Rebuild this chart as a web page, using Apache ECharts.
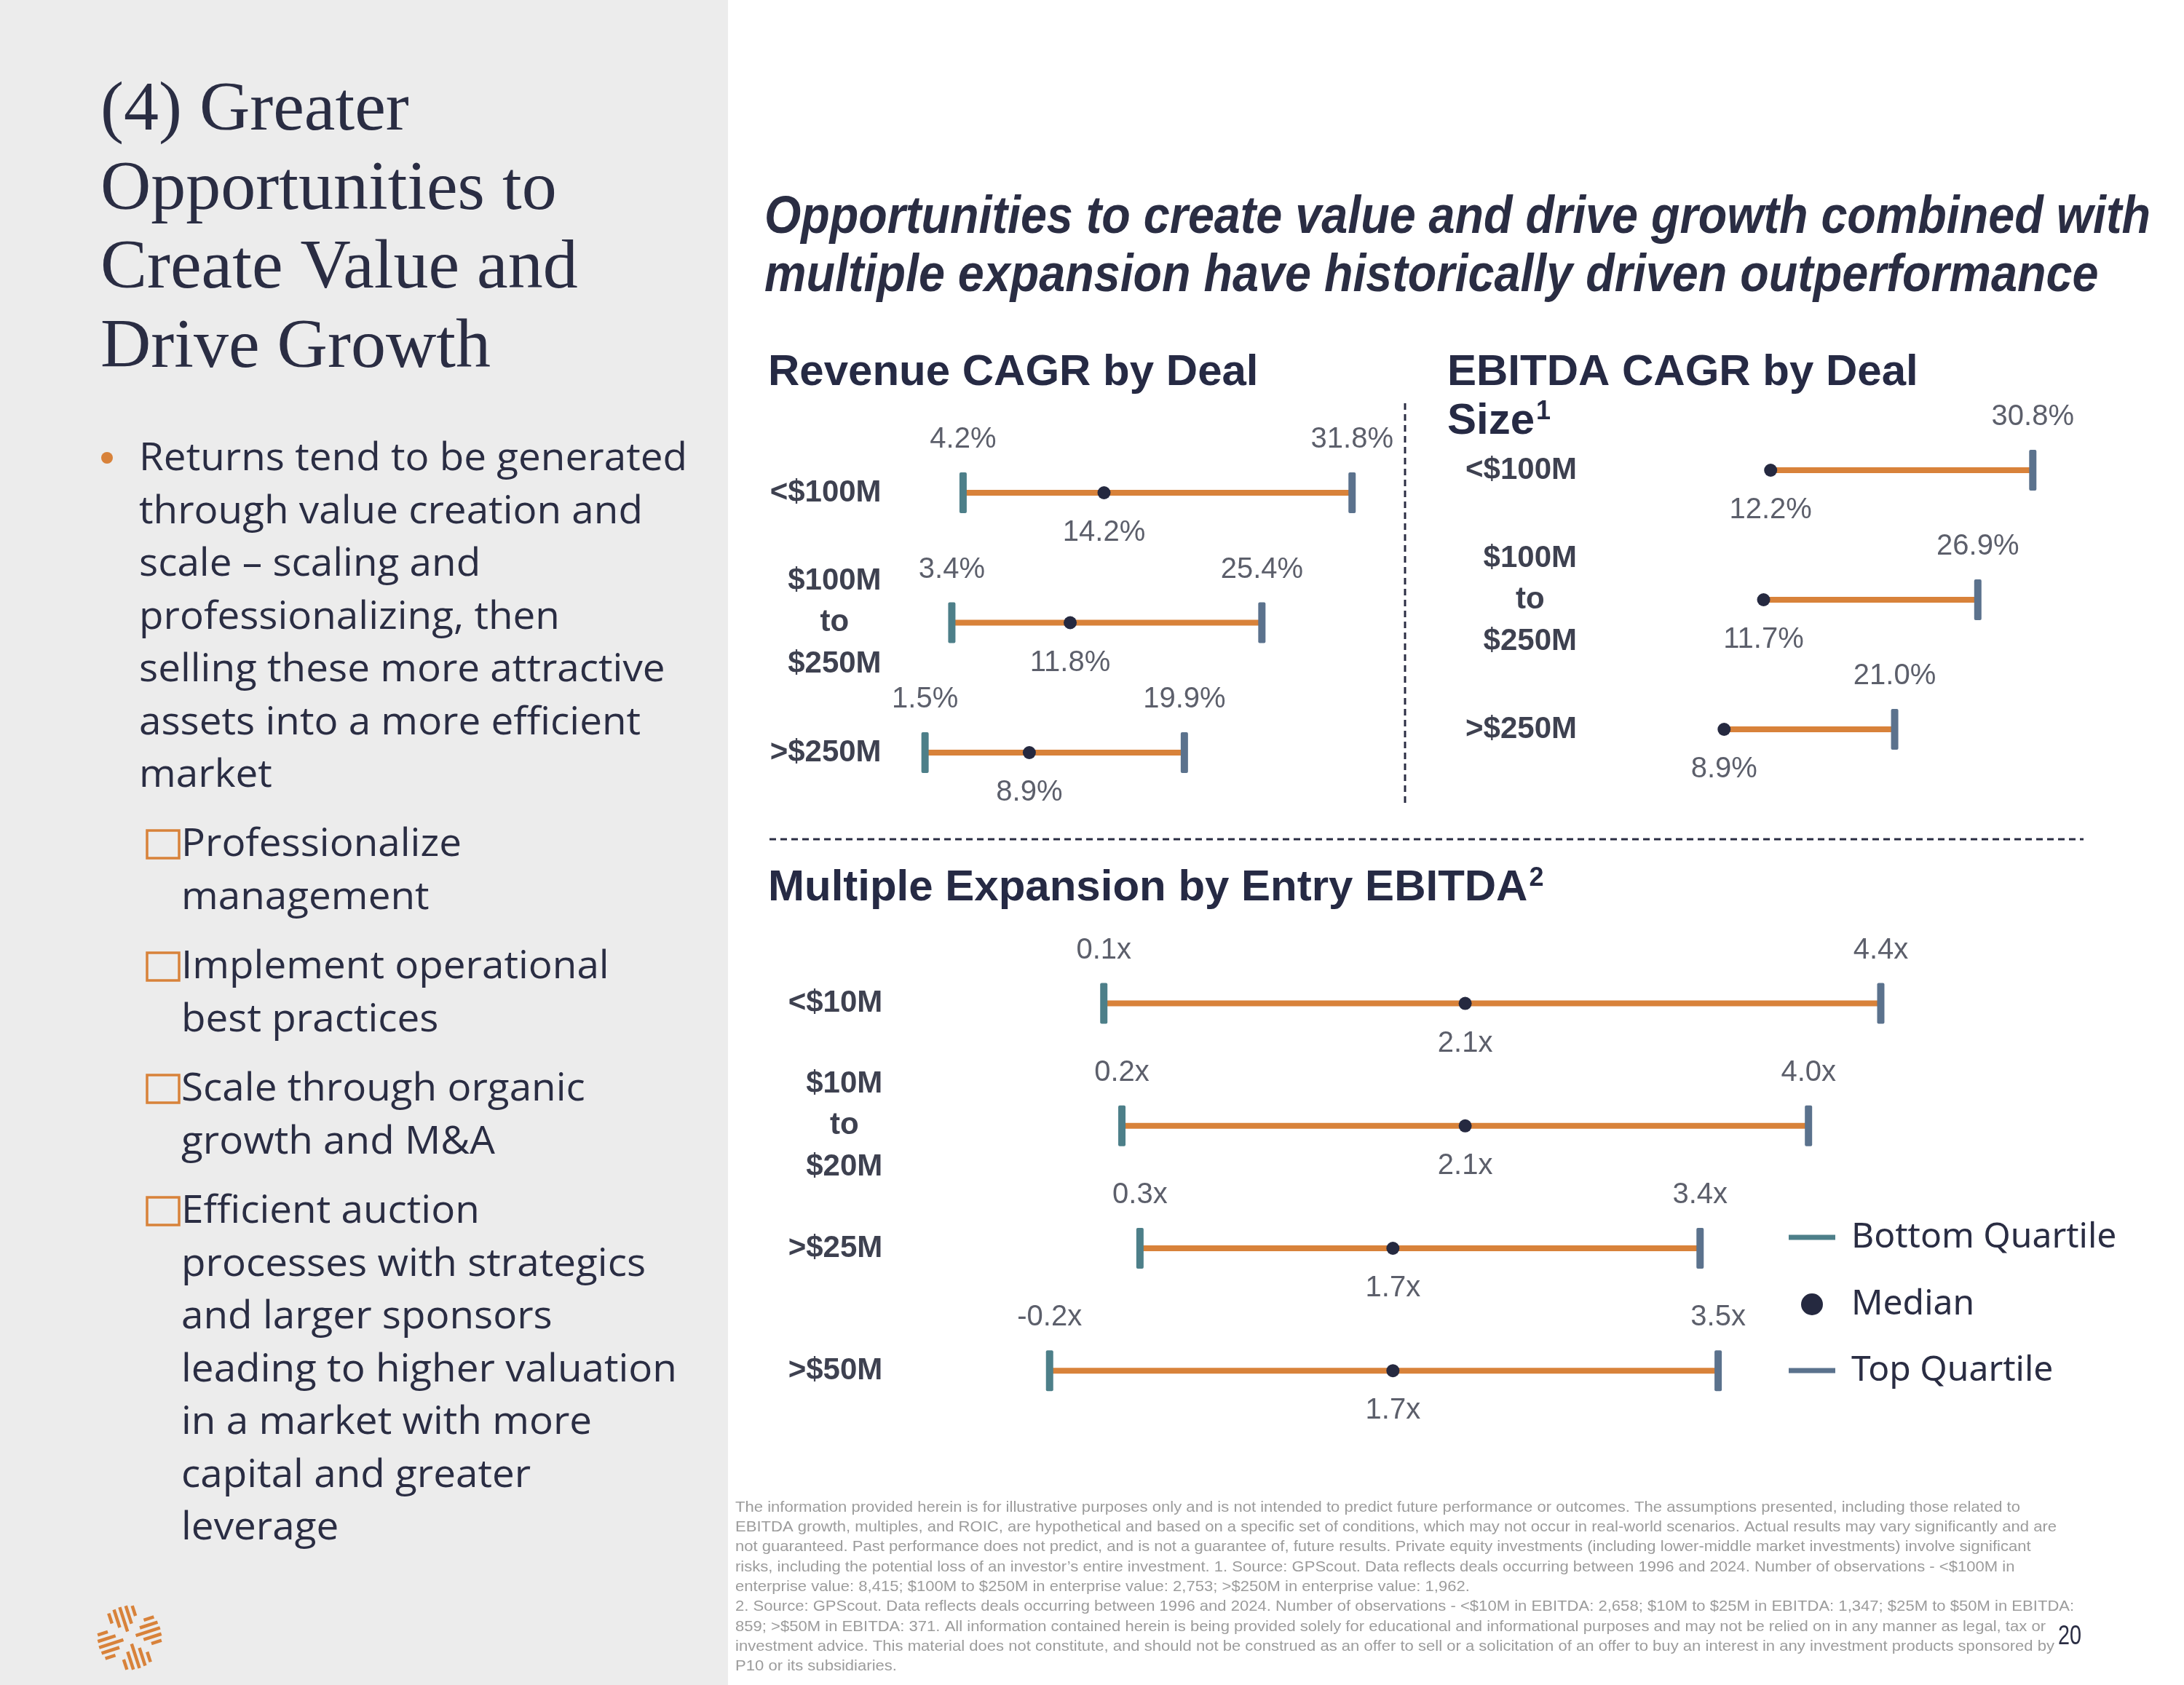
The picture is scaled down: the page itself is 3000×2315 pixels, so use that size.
<!DOCTYPE html>
<html><head><meta charset="utf-8">
<script src="https://cdn.jsdelivr.net/npm/echarts@6/dist/echarts.min.js"></script>
<style>html,body{margin:0;padding:0;background:#fff;} #c{width:3000px;height:2315px;}</style>
</head><body><div id="c"></div>
<script>
// ---------- data ----------
const revCategories = ['<$100M', '$100M\nto\n$250M', '>$250M'];
const revBottom = [4.2, 3.4, 1.5];
const revMedian = [14.2, 11.8, 8.9];
const revTop = [31.8, 25.4, 19.9];

const ebitdaCategories = ['<$100M', '$100M\nto\n$250M', '>$250M'];
const ebitdaMedian = [12.2, 11.7, 8.9];
const ebitdaTop = [30.8, 26.9, 21.0];

const multCategories = ['<$10M', '$10M\nto\n$20M', '>$25M', '>$50M'];
const multBottom = [0.1, 0.2, 0.3, -0.2];
const multMedian = [2.1, 2.1, 1.7, 1.7];
const multTop = [4.4, 4.0, 3.4, 3.5];

const legendLabels = ['Bottom Quartile', 'Median', 'Top Quartile'];

const titleLines = ['(4) Greater', 'Opportunities to', 'Create Value and', 'Drive Growth'];
const bulletLines = ['Returns tend to be generated', 'through value creation and', 'scale \u2013 scaling and', 'professionalizing, then', 'selling these more attractive', 'assets into a more efficient', 'market'];
const subItems = [
  ['Professionalize', 'management'],
  ['Implement operational', 'best practices'],
  ['Scale through organic', 'growth and M&A'],
  ['Efficient auction', 'processes with strategics', 'and larger sponsors', 'leading to higher valuation', 'in a market with more', 'capital and greater', 'leverage']
];
const subtitleLines = ['Opportunities to create value and drive growth combined with', 'multiple expansion have historically driven outperformance'];
const footnoteLines = [
  'The information provided herein is for illustrative purposes only and is not intended to predict future performance or outcomes. The assumptions presented, including those related to',
  'EBITDA growth, multiples, and ROIC, are hypothetical and based on a specific set of conditions, which may not occur in real-world scenarios. Actual results may vary significantly and are',
  'not guaranteed. Past performance does not predict, and is not a guarantee of, future results. Private equity investments (including lower-middle market investments) involve significant',
  'risks, including the potential loss of an investor\u2019s entire investment. 1. Source: GPScout. Data reflects deals occurring between 1996 and 2024. Number of observations - <$100M in',
  'enterprise value: 8,415; $100M to $250M in enterprise value: 2,753; >$250M in enterprise value: 1,962.',
  '2. Source: GPScout. Data reflects deals occurring between 1996 and 2024. Number of observations - <$10M in EBITDA: 2,658; $10M to $25M in EBITDA: 1,347; $25M to $50M in EBITDA:',
  '859; >$50M in EBITDA: 371. All information contained herein is being provided solely for educational and informational purposes and may not be relied on in any manner as legal, tax or',
  'investment advice. This material does not constitute, and should not be construed as an offer to sell or a solicitation of an offer to buy an interest in any investment products sponsored by',
  'P10 or its subsidiaries.'
];

// ---------- styles ----------
const NAVY = '#2a2d43';
const ORANGE = '#d8823a';
const TEAL = '#4d7f89';
const SLATE = '#5b728d';
const DOT = '#252940';
const VAL = '#5c5f6b';
const CATC = '#3e4150';
const SANS = '"Liberation Sans", Arial, sans-serif';

const ctx = document.createElement('canvas').getContext('2d');
function tw(text, font) { ctx.font = font; return ctx.measureText(text).width; }

function txt(x, y, text, font, fill, align, extra) {
  const o = { type: 'text', x: x, y: y, silent: true,
    style: { text: text, font: font, fill: fill, align: align || 'left', verticalAlign: 'middle',
      textAlign: align || 'left', textVerticalAlign: 'middle' } };
  if (extra) Object.assign(o, extra);
  return o;
}

function makeRender(fmt) {
  return function (params, api) {
    const cat = api.value(0);
    const b = api.value(1), m = api.value(2), t = api.value(3);
    const hasB = !(b == null || isNaN(b));
    const pm = api.coord([m, cat]);
    const pt = api.coord([t, cat]);
    const pb = hasB ? api.coord([b, cat]) : pm;
    const y = pm[1];
    const font = '40px ' + SANS;
    const ch = [];
    ch.push({ type: 'line', shape: { x1: pb[0], y1: y, x2: pt[0], y2: y }, style: { stroke: ORANGE, lineWidth: 8 } });
    if (hasB) {
      ch.push({ type: 'rect', shape: { x: pb[0] - 5, y: y - 28, width: 10, height: 56, r: 2 }, style: { fill: TEAL } });
      ch.push(txt(pb[0], y - 73, fmt(b), font, VAL, 'center'));
    }
    ch.push({ type: 'rect', shape: { x: pt[0] - 5, y: y - 28, width: 10, height: 56, r: 2 }, style: { fill: SLATE } });
    ch.push({ type: 'circle', shape: { cx: pm[0], cy: y, r: 9 }, style: { fill: DOT } });
    ch.push(txt(pt[0], y - 73, fmt(t), font, VAL, 'center'));
    ch.push(txt(pm[0], y + 55, fmt(m), font, VAL, 'center'));
    return { type: 'group', children: ch };
  };
}
const pct = v => v.toFixed(1) + '%';
const mx = v => v.toFixed(1) + 'x';

const CATFONT = 'bold 42px ' + SANS;
function catAxisLabel(cats, margin) {
  const multi = cats.find(c => c.indexOf('\n') >= 0);
  const w = multi ? tw(multi.split('\n')[0], CATFONT) : 100;
  return {
    show: true, margin: margin,
    formatter: function (v) {
      const p = v.split('\n');
      if (p.length === 1) return '{a|' + v + '}';
      return '{a|' + p[0] + '}\n{t|' + p[1] + '}\n{a|' + p[2] + '}';
    },
    rich: {
      a: { fontSize: 42, fontWeight: 'bold', fontFamily: SANS, color: CATC, lineHeight: 57 },
      t: { fontSize: 42, fontWeight: 'bold', fontFamily: SANS, color: CATC, lineHeight: 57, width: w, align: 'center' }
    }
  };
}
function hiddenX(min, max, gi) {
  return { type: 'value', gridIndex: gi, min: min, max: max, show: false, splitLine: { show: false } };
}
function catY(cats, gi, margin) {
  return { type: 'category', gridIndex: gi, data: cats, inverse: true,
    axisLine: { show: false }, axisTick: { show: false }, splitLine: { show: false },
    axisLabel: catAxisLabel(cats, margin) };
}

// ---------- graphic ----------
const g = [];
g.push({ type: 'rect', shape: { x: 0, y: 0, width: 1000, height: 2315 }, style: { fill: '#ececec' }, z: -10, silent: true });

// left title
titleLines.forEach((l, i) => g.push(txt(138, 153 + i * 108.5, l, '96px "Liberation Serif", serif', NAVY, 'left')));
// bullet
const BFONT = '53px "Open Sans", "Noto Sans", sans-serif';
const bScale = 753 / tw(bulletLines[0], BFONT);
g.push({ type: 'circle', shape: { cx: 147, cy: 629, r: 8 }, style: { fill: ORANGE }, silent: true });
bulletLines.forEach((l, i) => g.push(txt(191, 631 + i * 72.5, l, BFONT, NAVY, 'left', { scaleX: bScale })));
// sub items
const subStarts = [1161, 1329, 1497, 1665];
subItems.forEach((item, k) => {
  const y0 = subStarts[k];
  g.push({ type: 'rect', shape: { x: 202, y: y0 - 20, width: 44, height: 38 }, style: { fill: 'none', stroke: ORANGE, lineWidth: 3.5 }, silent: true });
  item.forEach((l, i) => g.push(txt(249, y0 + i * 72.5, l, BFONT, NAVY, 'left', { scaleX: bScale })));
});
// logo
(function () {
  const cx = 178, cy = 2250, R = 44, s = 8.5, gap = 5, rot = -18 * Math.PI / 180;
  for (let k = 0; k < 4; k++) {
    const ang = k * Math.PI / 2 + rot;
    const ax = Math.cos(ang), ay = Math.sin(ang), px = -ay, py = ax;
    [-2, -1, 0, 1, 2].forEach(v => {
      const d = v * s;
      const t0 = Math.abs(d) + gap + 4, t1 = Math.sqrt(R * R - d * d);
      g.push({ type: 'line', silent: true,
        shape: { x1: cx + ax * t0 + px * d, y1: cy + ay * t0 + py * d, x2: cx + ax * t1 + px * d, y2: cy + ay * t1 + py * d },
        style: { stroke: ORANGE, lineWidth: 4.5 } });
    });
  }
})();

// subtitle
const SUBFONT = 'italic bold 72px ' + SANS;
const subScale = 1904 / tw(subtitleLines[0], SUBFONT);
subtitleLines.forEach((l, i) => g.push(txt(1050, 300 + i * 80, l, SUBFONT, NAVY, 'left', { scaleX: subScale })));

// chart titles
const TFONT = 'bold 60px ' + SANS;
const TCOL = '#262a44';
g.push(txt(1055, 512, 'Revenue CAGR by Deal', TFONT, TCOL, 'left'));
g.push(txt(1988, 512, 'EBITDA CAGR by Deal', TFONT, TCOL, 'left'));
g.push(txt(1988, 579, 'Size', TFONT, TCOL, 'left'));
g.push(txt(1988 + tw('Size', TFONT) + 2, 566, '1', 'bold 36px ' + SANS, TCOL, 'left'));
g.push(txt(1055, 1220, 'Multiple Expansion by Entry EBITDA', TFONT, TCOL, 'left'));
g.push(txt(1055 + tw('Multiple Expansion by Entry EBITDA', TFONT) + 2, 1207, '2', 'bold 36px ' + SANS, TCOL, 'left'));

// dashed separators
g.push({ type: 'line', silent: true, shape: { x1: 1930, y1: 554, x2: 1930, y2: 1105 }, style: { stroke: NAVY, lineWidth: 3, lineDash: [9, 6] } });
g.push({ type: 'line', silent: true, shape: { x1: 1057, y1: 1153, x2: 2862, y2: 1153 }, style: { stroke: NAVY, lineWidth: 3, lineDash: [9, 6] } });

// legend
const LFONT = '48px "Noto Sans", sans-serif';
g.push({ type: 'line', silent: true, shape: { x1: 2457, y1: 1700, x2: 2521, y2: 1700 }, style: { stroke: TEAL, lineWidth: 7 } });
g.push(txt(2543, 1700, legendLabels[0], LFONT, NAVY, 'left'));
g.push({ type: 'circle', silent: true, shape: { cx: 2489, cy: 1792, r: 15 }, style: { fill: DOT } });
g.push(txt(2543, 1792, legendLabels[1], LFONT, NAVY, 'left'));
g.push({ type: 'line', silent: true, shape: { x1: 2457, y1: 1883, x2: 2521, y2: 1883 }, style: { stroke: SLATE, lineWidth: 7 } });
g.push(txt(2543, 1883, legendLabels[2], LFONT, NAVY, 'left'));

// footnote
const FFONT = '21px ' + SANS;
const fScale = 1765 / tw(footnoteLines[0], FFONT);
footnoteLines.forEach((l, i) => g.push(txt(1010, 2071 + i * 27.3, l, FFONT, '#9c9c9c', 'left', { scaleX: fScale })));
g.push(txt(2843, 2249, '20', '36px ' + SANS, NAVY, 'center', { scaleX: 0.8 }));

// ---------- chart ----------
const chart = echarts.init(document.getElementById('c'), null, { renderer: 'canvas' });
chart.setOption({
  animation: false,
  backgroundColor: '#ffffff',
  grid: [
    { left: 1241.6, top: 587.75, width: 33 * 19.36, height: 535.5 },
    { left: 2196, top: 557, width: 33 * 19.36, height: 534 },
    { left: 1491.4 - 0.5 * 248.2, top: 1294.5, width: 5 * 248.2, height: 672.8 }
  ],
  xAxis: [hiddenX(0, 33, 0), hiddenX(0, 33, 1), hiddenX(-0.5, 4.5, 2)],
  yAxis: [catY(revCategories, 0, 31), catY(ebitdaCategories, 1, 30), catY(multCategories, 2, 155)],
  series: [
    { type: 'custom', xAxisIndex: 0, yAxisIndex: 0, clip: false, renderItem: makeRender(pct),
      encode: { x: [1, 2, 3], y: 0 },
      data: revCategories.map((c, i) => [i, revBottom[i], revMedian[i], revTop[i]]) },
    { type: 'custom', xAxisIndex: 1, yAxisIndex: 1, clip: false, renderItem: makeRender(pct),
      encode: { x: [2, 3], y: 0 },
      data: ebitdaCategories.map((c, i) => [i, '-', ebitdaMedian[i], ebitdaTop[i]]) },
    { type: 'custom', xAxisIndex: 2, yAxisIndex: 2, clip: false, renderItem: makeRender(mx),
      encode: { x: [1, 2, 3], y: 0 },
      data: multCategories.map((c, i) => [i, multBottom[i], multMedian[i], multTop[i]]) }
  ],
  graphic: { elements: g }
});
</script></body></html>
